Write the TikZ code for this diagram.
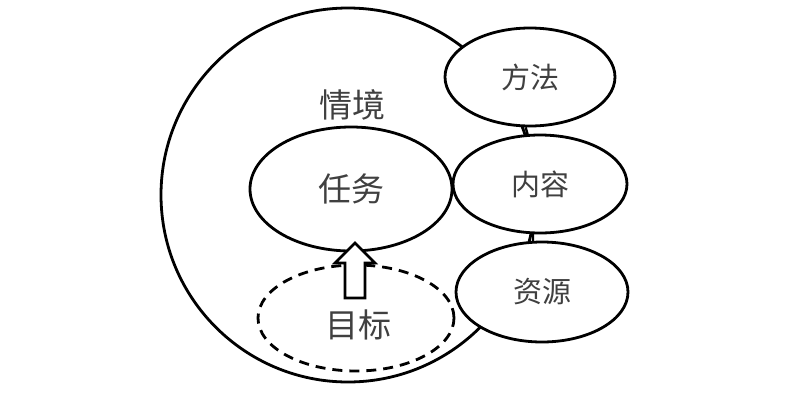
\documentclass[tikz,border=0pt]{standalone}
\usepackage{fontspec}
\newfontfamily\cjk{Noto Sans CJK SC}
\usetikzlibrary{shapes}
\begin{document}
\begin{tikzpicture}[x=1pt,y=-1pt]
	\tikzstyle{part}=[draw,ellipse,line width=2.8pt,fill=white,inner sep=0pt,text=black!75,font=\cjk\fontsize{29}{29}\selectfont]
	\tikzstyle{word}=[text=black!75,inner sep=0pt,font=\cjk\fontsize{33}{33}\selectfont]
	\useasboundingbox (0,0) rectangle (800,402);
	
	\node[draw,circle,line width=2.8pt,minimum size=374pt] (situation) at (348,195) {};
	\node[word] (situationtext) at (352,105) {情境};
	
	\node[part,dashed,dash pattern=on 10pt off 7pt,fill=none,minimum width=196pt,minimum height=106pt] (goal) at (356,318) {};
	\node[word] (goaltext) at (358,325) {目标};
	\node[part,word,draw,minimum width=202pt,minimum height=124pt] (task) at (351,189) {任务};
	
	\draw[line width=2.6pt,fill=white] (345,298) -- (345,263) -- (335,263) -- (355,243) -- (375,263) -- (365,263) -- (365,298) -- cycle;
	
	\node[part,minimum width=170pt,minimum height=98pt] (method) at (530,77) {方法};
	\node[part,minimum width=174pt,minimum height=98pt] (content) at (540,184) {内容};
	\node[part,minimum width=172pt,minimum height=100pt] (resource) at (542,292) {资源};
	
	\draw[line width=2.4pt] (method.265) -- (content.104);
	\draw[line width=2.4pt] (content.262) -- (resource.100);
	
\end{tikzpicture}
\end{document}
